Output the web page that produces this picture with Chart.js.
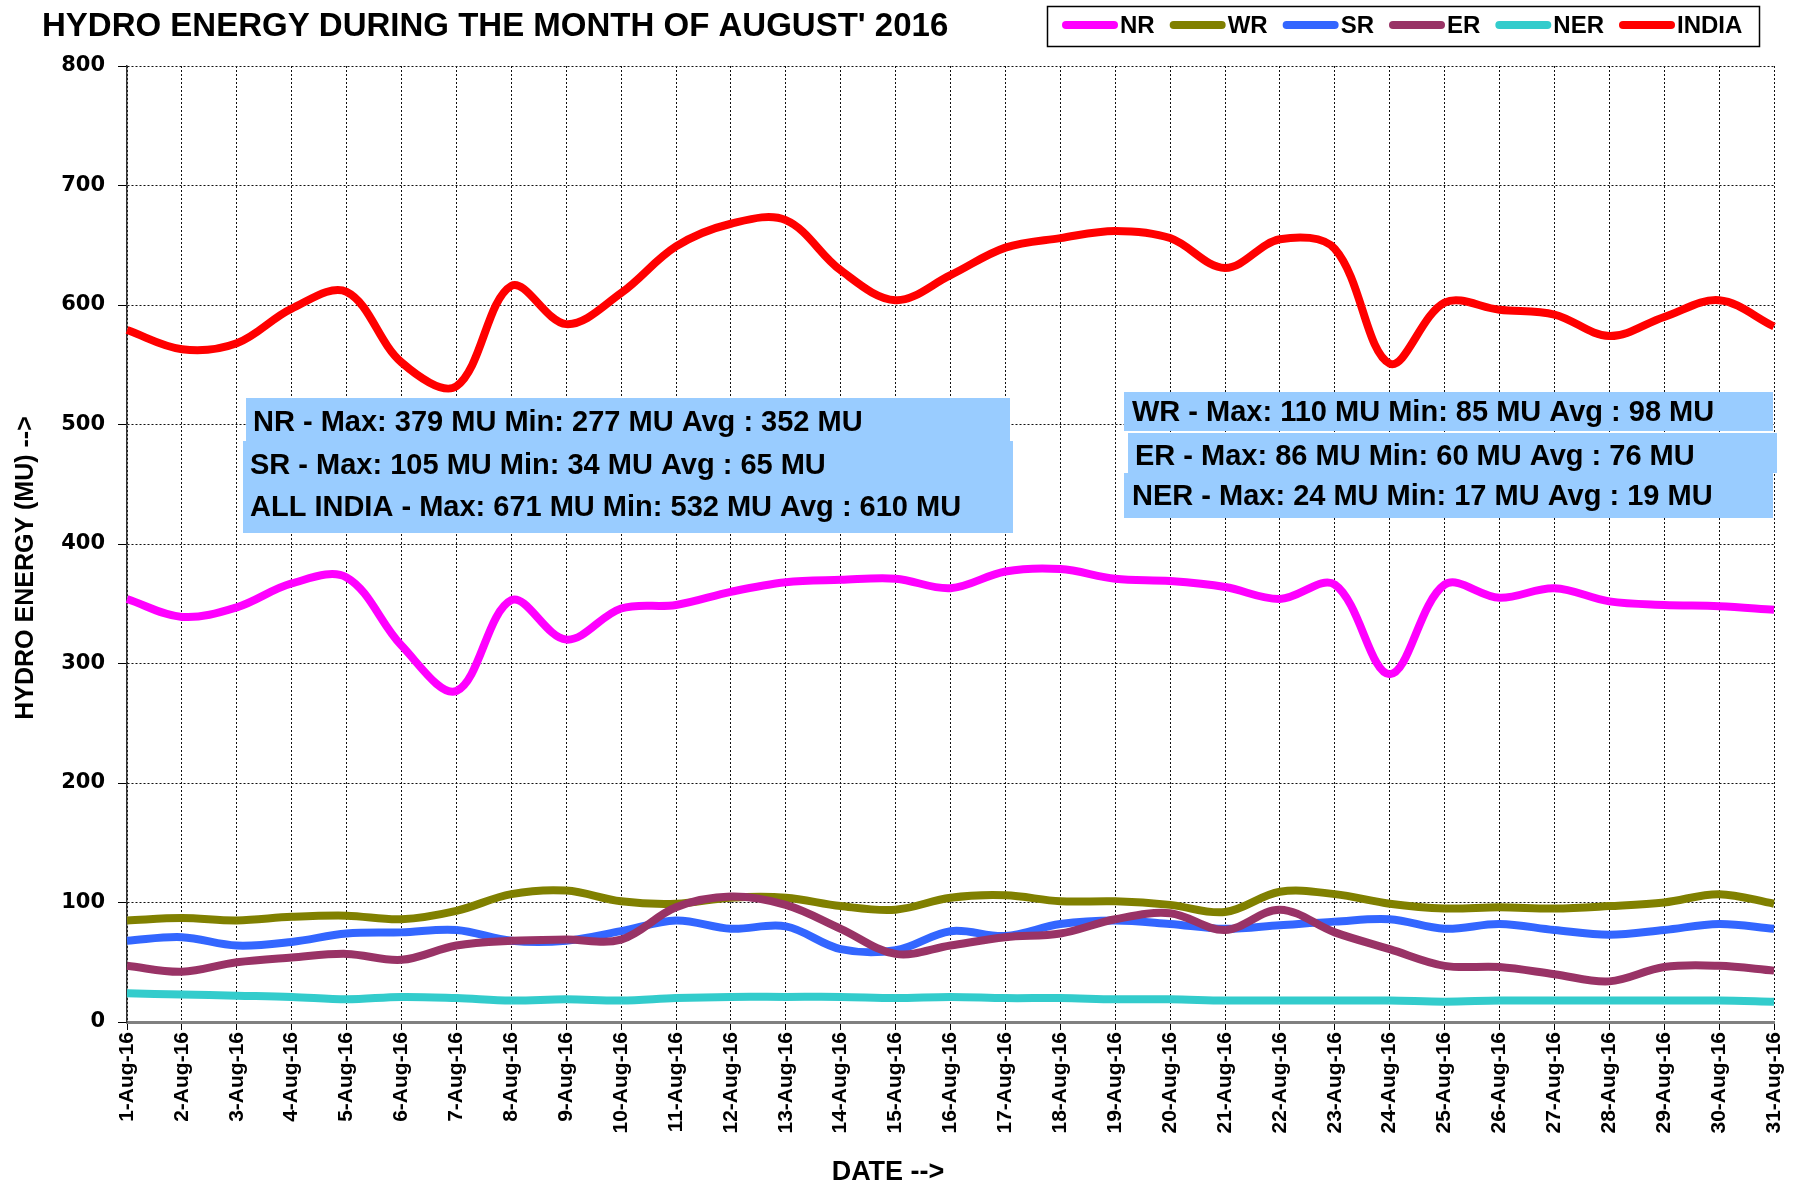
<!DOCTYPE html>
<html>
<head>
<meta charset="utf-8">
<title>Hydro Energy - August 2016</title>
<script src="https://cdn.jsdelivr.net/npm/chart.js@4.4.0/dist/chart.umd.min.js"></script>
<style>
  html, body { margin: 0; padding: 0; background: #fff; }
  #wrap { width: 1798px; height: 1187px; position: relative; }
</style>
</head>
<body>
<div id="wrap"><canvas id="hydroChart"></canvas></div>
<script>
// values (MU per day)
const dates = ['1-Aug-16', '2-Aug-16', '3-Aug-16', '4-Aug-16', '5-Aug-16', '6-Aug-16', '7-Aug-16', '8-Aug-16',
    '9-Aug-16', '10-Aug-16', '11-Aug-16', '12-Aug-16', '13-Aug-16', '14-Aug-16', '15-Aug-16', '16-Aug-16',
    '17-Aug-16', '18-Aug-16', '19-Aug-16', '20-Aug-16', '21-Aug-16', '22-Aug-16', '23-Aug-16', '24-Aug-16',
    '25-Aug-16', '26-Aug-16', '27-Aug-16', '28-Aug-16', '29-Aug-16', '30-Aug-16', '31-Aug-16'];

const nr = [354, 339, 347, 367, 372, 315, 277, 353, 320, 346, 349, 360, 368, 370, 371, 363,
    377, 379, 371, 369, 364, 354, 366, 291, 366, 355, 363, 352, 349, 348, 345];
const wr = [85, 87, 85, 88, 89, 86, 93, 107, 110, 101, 99, 104, 104, 97, 94, 104,
    106, 101, 101, 98, 92, 109, 107, 99, 95, 96, 95, 97, 100, 107, 99];
const sr = [68, 71, 64, 67, 74, 75, 77, 68, 68, 76, 85, 78, 80, 61, 60, 76,
    72, 82, 85, 82, 78, 81, 84, 86, 78, 82, 77, 73, 77, 82, 78];
const er = [47, 42, 50, 54, 57, 52, 64, 68, 69, 69, 96, 105, 98, 78, 57, 64,
    71, 74, 86, 91, 77, 94, 75, 61, 47, 46, 40, 34, 46, 47, 43];
const ner = [24, 23, 22, 21, 19, 21, 20, 18, 19, 18, 20, 21, 21, 21, 20, 21,
    20, 20, 19, 19, 18, 18, 18, 18, 17, 18, 18, 18, 18, 18, 17];
const india = [579, 563, 568, 597, 611, 552, 532, 616, 584, 610, 649, 668, 671, 629, 604, 625,
    648, 656, 662, 656, 631, 655, 647, 551, 602, 596, 592, 574, 590, 604, 582];

const seriesNames = ['NR', 'WR', 'SR', 'ER', 'NER', 'INDIA'];
const seriesColors = ['#FF00FF', '#808000', '#3366FF', '#993366', '#33CCCC', '#FF0000'];

// the stat boxes, text as printed on the original
const leftNotes = ['NR - Max: 379 MU Min: 277 MU Avg : 352 MU',
    'SR - Max: 105 MU Min: 34 MU Avg : 65 MU',
    'ALL INDIA - Max: 671 MU Min: 532 MU Avg : 610 MU'];
const rightNotes = ['WR - Max: 110 MU Min: 85 MU Avg : 98 MU',
    'ER - Max: 86 MU Min: 60 MU Avg : 76 MU',
    'NER - Max: 24 MU Min: 17 MU Avg : 19 MU'];

const FONT = "'Liberation Sans', Arial, sans-serif";

// title, legend, axis titles and note boxes
const extrasPlugin = {
    id: 'extras',
    afterDraw(chart) {
        const ctx = chart.ctx;
        ctx.save();
        ctx.fillStyle = '#000';
        ctx.textBaseline = 'middle';

        // title
        ctx.font = 'bold 33px ' + FONT;
        ctx.textAlign = 'left';
        ctx.fillText("HYDRO ENERGY DURING THE MONTH OF AUGUST' 2016", 42, 27);

        // legend box
        ctx.lineWidth = 1.5;
        ctx.strokeStyle = '#000';
        ctx.strokeRect(1047.5, 6.5, 712, 40);
        ctx.font = 'bold 24px ' + FONT;
        let lx = 1062;
        chart.data.datasets.forEach(ds => {
            ctx.beginPath();
            ctx.strokeStyle = ds.borderColor;
            ctx.lineWidth = 8;
            ctx.lineCap = 'round';
            ctx.moveTo(lx + 4, 25);
            ctx.lineTo(lx + 52, 25);
            ctx.stroke();
            ctx.fillText(ds.label, lx + 58, 26);
            lx += 58 + ctx.measureText(ds.label).width + 15;
        });

        // axis titles
        ctx.font = 'bold 25px ' + FONT;
        ctx.textAlign = 'center';
        ctx.save();
        ctx.translate(26, 568);
        ctx.rotate(-Math.PI / 2);
        ctx.fillText('HYDRO ENERGY (MU) -->', 0, 0);
        ctx.restore();
        ctx.font = 'bold 27px ' + FONT;
        ctx.fillText('DATE -->', 888, 1173);

        // note boxes
        ctx.fillStyle = '#99CCFF';
        ctx.fillRect(246, 398, 764, 43);
        ctx.fillRect(243, 441, 770, 92);
        ctx.fillRect(1124, 392, 649, 39);
        ctx.fillRect(1128, 433, 649, 40);
        ctx.fillRect(1124, 473, 649, 45);

        ctx.fillStyle = '#000';
        ctx.textAlign = 'left';
        ctx.font = 'bold 29px ' + FONT;
        ctx.fillText(leftNotes[0], 253, 423);
        ctx.fillText(leftNotes[1], 250, 466);
        ctx.fillText(leftNotes[2], 250, 508);
        ctx.fillText(rightNotes[0], 1132, 413);
        ctx.fillText(rightNotes[1], 1135, 457);
        ctx.fillText(rightNotes[2], 1132, 497);
        ctx.restore();
    }
};

const allSeries = [nr, wr, sr, er, ner, india];
const datasets = allSeries.map((values, i) => ({
    label: seriesNames[i],
    data: values,
    borderColor: seriesColors[i],
    backgroundColor: seriesColors[i],
    borderWidth: 8,
    pointRadius: 0,
    pointHoverRadius: 0,
    tension: 0.35,
    fill: false,
    order: allSeries.length - i // later series drawn on top, as in the original
}));

new Chart(document.getElementById('hydroChart'), {
    type: 'line',
    data: { labels: dates, datasets: datasets },
    options: {
        responsive: true,
        maintainAspectRatio: false,
        devicePixelRatio: 1,
        animation: false,
        layout: { padding: { left: 0, top: 66, right: 24, bottom: 0 } },
        plugins: {
            legend: { display: false },
            title: { display: false },
            tooltip: { enabled: false }
        },
        scales: {
            x: {
                offset: false,
                grid: {
                    color: '#111',
                    lineWidth: 1,
                    tickLength: 8,
                    tickColor: '#000',
                    tickBorderDash: [],
                    offset: false
                },
                border: { display: true, color: '#808080', width: 3, dash: [2, 2] },
                ticks: {
                    autoSkip: false,
                    maxRotation: 90,
                    minRotation: 90,
                    padding: 2,
                    color: '#000',
                    font: { family: FONT, size: 21, weight: 'bold' }
                },
                afterFit(scale) {
                    scale.height = 165;
                    scale.paddingLeft = 0;
                    scale.paddingRight = 0;
                }
            },
            y: {
                min: 0,
                max: 800,
                grid: {
                    color: '#111',
                    lineWidth: 1,
                    tickLength: 9,
                    tickColor: '#000',
                    tickBorderDash: []
                },
                border: { display: true, color: '#333', width: 1.5, dash: [2, 2] },
                ticks: {
                    stepSize: 100,
                    padding: 13,
                    color: '#000',
                    font: { family: "'DejaVu Sans', sans-serif", size: 21, weight: 'bold' }
                },
                afterFit(scale) {
                    scale.width = 127;
                    scale.paddingTop = 0;
                    scale.paddingBottom = 0;
                }
            }
        }
    },
    plugins: [extrasPlugin]
});
</script>
</body>
</html>
